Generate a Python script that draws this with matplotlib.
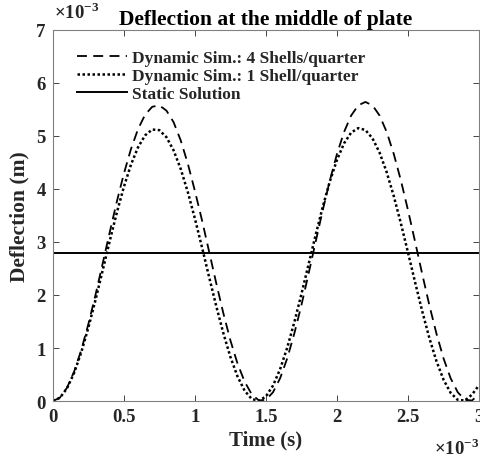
import matplotlib
matplotlib.use("Agg")
import matplotlib.pyplot as plt

plt.rcParams['font.family'] = ['Liberation Serif', 'DejaVu Serif']
plt.rcParams['font.weight'] = 'bold'
plt.rcParams['mathtext.fontset'] = 'custom'
plt.rcParams['mathtext.rm'] = 'Liberation Serif:bold'
plt.rcParams['mathtext.bf'] = 'Liberation Serif:bold'

# time in units of 1e-3 s
time_ms = [0.00, 0.05, 0.10, 0.15, 0.20, 0.25, 0.30, 0.35, 0.40, 0.45,
           0.50, 0.55, 0.60, 0.65, 0.70, 0.75, 0.80, 0.85, 0.90, 0.95,
           1.00, 1.05, 1.10, 1.15, 1.20, 1.25, 1.30, 1.35, 1.40, 1.45,
           1.50, 1.55, 1.60, 1.65, 1.70, 1.75, 1.80, 1.85, 1.90, 1.95,
           2.00, 2.05, 2.10, 2.15, 2.20, 2.25, 2.30, 2.35, 2.40, 2.45,
           2.50, 2.55, 2.60, 2.65, 2.70, 2.75, 2.80, 2.85, 2.90, 2.95, 3.00]

# deflection in units of 1e-3 m
dyn_4_shells = [0.000, 0.063, 0.251, 0.554, 0.959, 1.447, 1.996, 2.582, 3.176, 3.753,
                4.286, 4.751, 5.129, 5.401, 5.549, 5.575, 5.476, 5.259, 4.917, 4.480,
                3.963, 3.410, 2.820, 2.227, 1.659, 1.143, 0.707, 0.367, 0.127, 0.012,
                0.023, 0.166, 0.430, 0.805, 1.274, 1.810, 2.397, 3.002, 3.599, 4.160,
                4.658, 5.074, 5.384, 5.576, 5.640, 5.576, 5.384, 5.074, 4.658, 4.160,
                3.599, 3.002, 2.397, 1.810, 1.274, 0.805, 0.430, 0.166, 0.023, 0.010, 0.127]

dyn_1_shell = [0.000, 0.061, 0.240, 0.530, 0.916, 1.381, 1.901, 2.453, 3.010, 3.547,
               4.036, 4.456, 4.786, 5.011, 5.120, 5.108, 4.975, 4.728, 4.379, 3.943,
               3.442, 2.900, 2.341, 1.794, 1.283, 0.832, 0.464, 0.195, 0.039, 0.002,
               0.088, 0.291, 0.603, 1.007, 1.487, 2.018, 2.575, 3.132, 3.663, 4.143,
               4.547, 4.859, 5.062, 5.147, 5.111, 4.954, 4.684, 4.315, 3.863, 3.349,
               2.800, 2.239, 1.694, 1.191, 0.754, 0.403, 0.155, 0.022, 0.010, 0.119, 0.300]

static_solution = 2.79

labels = ['Dynamic Sim.: 4 Shells/quarter', 'Dynamic Sim.: 1 Shell/quarter', 'Static Solution']
x_ticks = [0, 0.5, 1, 1.5, 2, 2.5, 3]
x_tick_labels = ['0', '0.5', '1', '1.5', '2', '2.5', '3']
y_ticks = [0, 1, 2, 3, 4, 5, 6, 7]

fig = plt.figure(figsize=(4.8, 4.6), dpi=100)
ax = fig.add_axes([0.110, 0.126, 0.888, 0.807])

axc = '#262626'
ax.plot(time_ms, dyn_4_shells, color='black', linestyle=(0, (5.5, 3.5)), linewidth=1.3, label=labels[0])
ax.plot(time_ms, dyn_1_shell, color='black', linestyle=(0, (1, 1)), linewidth=1.8, label=labels[1])
ax.axhline(static_solution, color='black', linewidth=1.4, label=labels[2])

ax.set_xlim(0, 3)
ax.set_ylim(0, 7)
ax.set_xticks(x_ticks)
ax.set_xticklabels(x_tick_labels)
ax.set_yticks(y_ticks)
ax.set_yticklabels([str(v) for v in y_ticks])
ax.tick_params(direction='in', top=True, right=True, length=4, width=0.6,
               colors=axc, labelsize=13.5, pad=5)
for lab in ax.get_xticklabels() + ax.get_yticklabels():
    lab.set_fontweight('bold')
    lab.set_color(axc)
for s in ax.spines.values():
    s.set_color('#808080')
    s.set_linewidth(0.8)

ax.set_xlabel('Time (s)', fontsize=15, fontweight='bold', color=axc, labelpad=3)
ax.set_ylabel('Deflection (m)', fontsize=15.5, fontweight='bold', color=axc, labelpad=5)
ax.set_title('Deflection at the middle of plate', fontsize=15.5, fontweight='bold', pad=4)

fig.text(0.113, 0.951, r'$\times$10$^{-3}$', fontsize=13.5, color=axc, ha='left', va='bottom')
fig.text(0.999, 0.003, r'$\times$10$^{-3}$', fontsize=13.5, color=axc, ha='right', va='bottom')

leg = ax.legend(loc='upper left', bbox_to_anchor=(0.056, 0.945), frameon=False, fontsize=12.5,
                handlelength=2.9, handletextpad=0.3, labelspacing=0.1, borderaxespad=0.0,
                borderpad=0.0)
for t in leg.get_texts():
    t.set_fontweight('bold')
    t.set_color(axc)

fig.savefig('out.png', dpi=100)
